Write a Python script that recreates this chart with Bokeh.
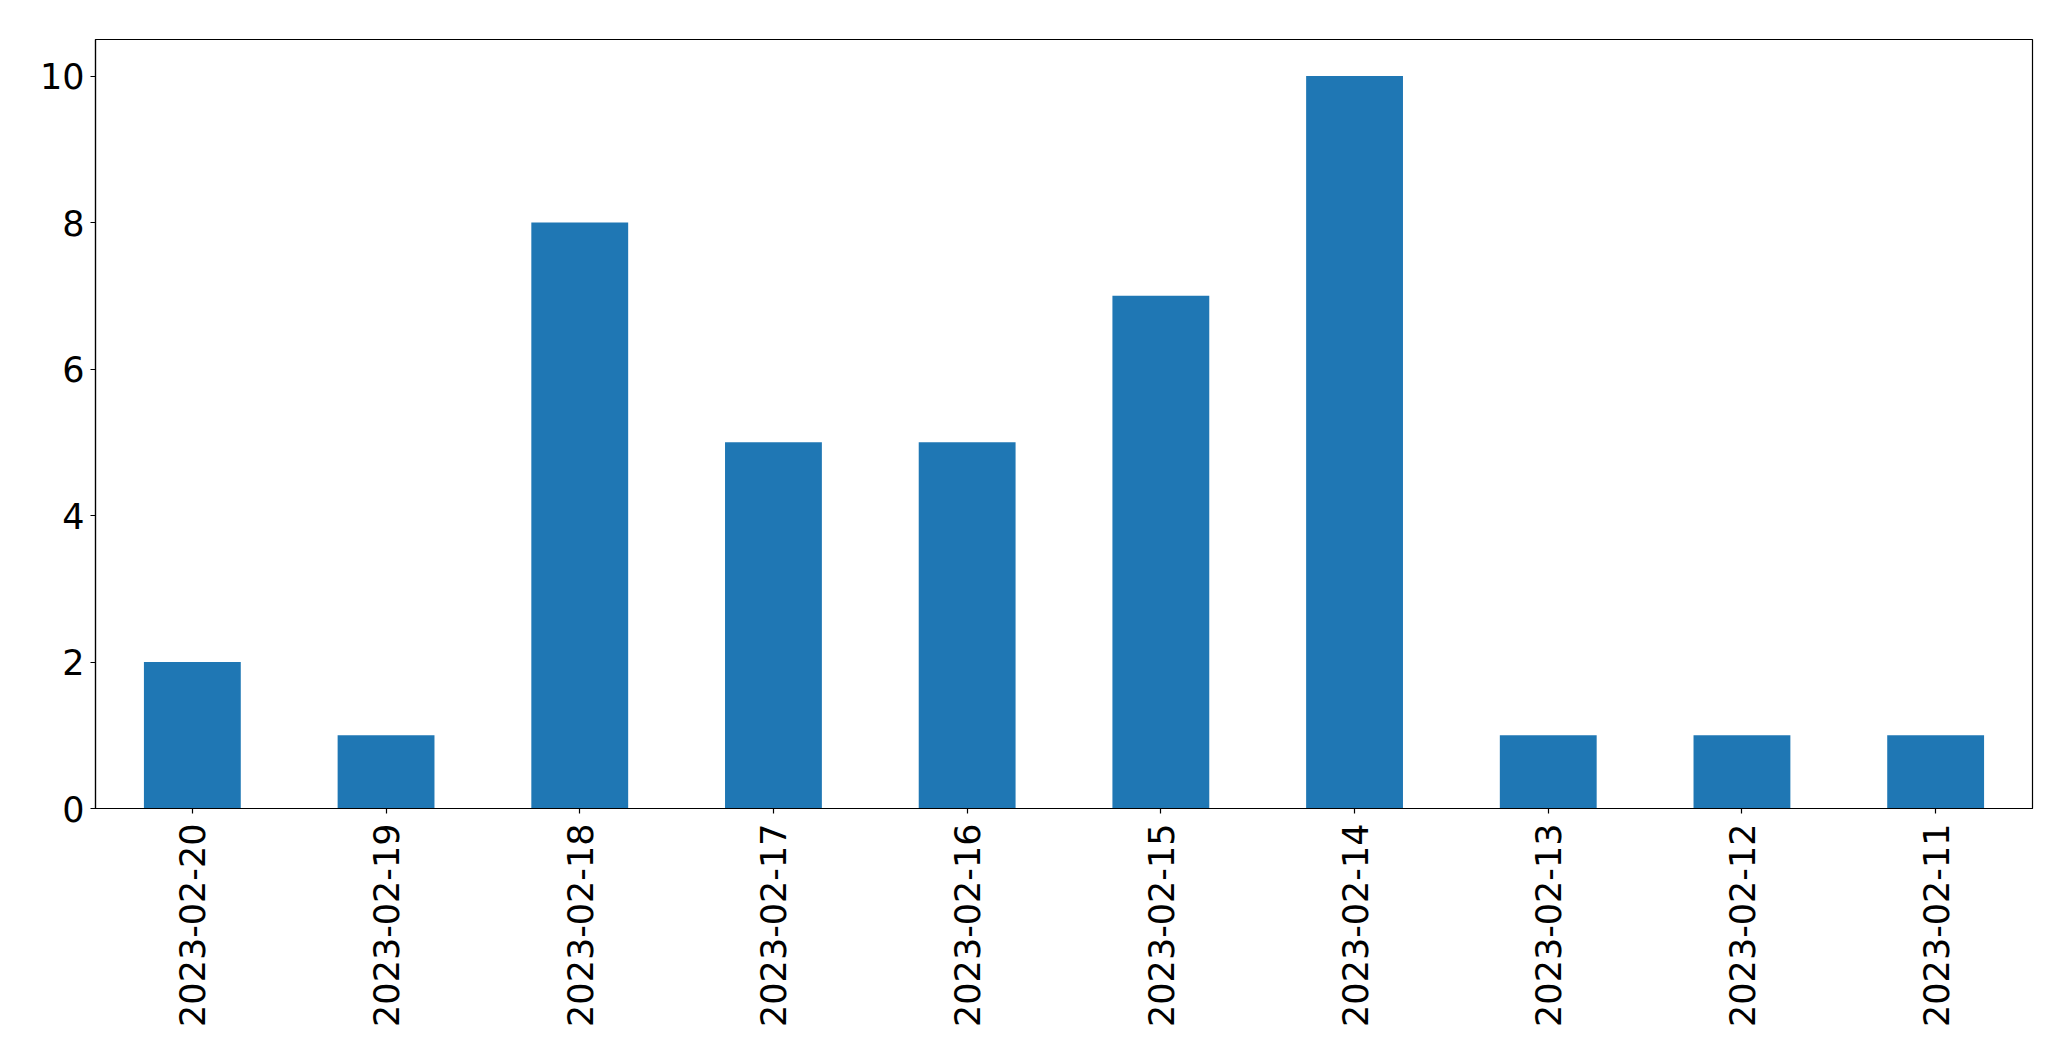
import math
from bokeh.plotting import figure
from bokeh.models import FactorRange, Range1d, FixedTicker, ColumnDataSource
from bokeh.embed import file_html
from bokeh.resources import INLINE

dates = ["2023-02-20", "2023-02-19", "2023-02-18", "2023-02-17", "2023-02-16",
         "2023-02-15", "2023-02-14", "2023-02-13", "2023-02-12", "2023-02-11"]
counts = [2, 1, 8, 5, 5, 7, 10, 1, 1, 1]
y_ticks = [0, 2, 4, 6, 8, 10]

src = ColumnDataSource(dict(x=dates, y=counts))

p = figure(width=2055, height=1045, output_backend="svg", toolbar_location=None,
           x_range=FactorRange(factors=dates, range_padding=0),
           y_range=Range1d(0, 10.5))
p.min_border_left = 95
p.min_border_right = 23
p.min_border_top = 39
p.min_border_bottom = 237

p.vbar(x="x", top="y", width=0.5, source=src, color="#1f77b4", line_color=None)

p.xgrid.visible = False
p.ygrid.visible = False
p.outline_line_color = "black"
p.outline_line_width = 1.2
p.background_fill_color = "white"
p.border_fill_color = "white"

for ax in (p.xaxis, p.yaxis):
    ax.axis_line_color = "black"
    ax.axis_line_width = 1.2
    ax.major_tick_line_color = "black"
    ax.major_tick_line_width = 1.2
    ax.major_tick_out = 5
    ax.major_tick_in = 0
    ax.minor_tick_line_color = None
    ax.major_label_text_font = "DejaVu Sans"
    ax.major_label_text_font_size = "35px"
    ax.major_label_text_color = "black"

p.yaxis.ticker = FixedTicker(ticks=y_ticks)
p.yaxis.major_label_standoff = 6
p.xaxis.major_label_orientation = math.pi / 2
p.xaxis.major_label_standoff = 10

open("out.html", "w").write(file_html(p, INLINE))
